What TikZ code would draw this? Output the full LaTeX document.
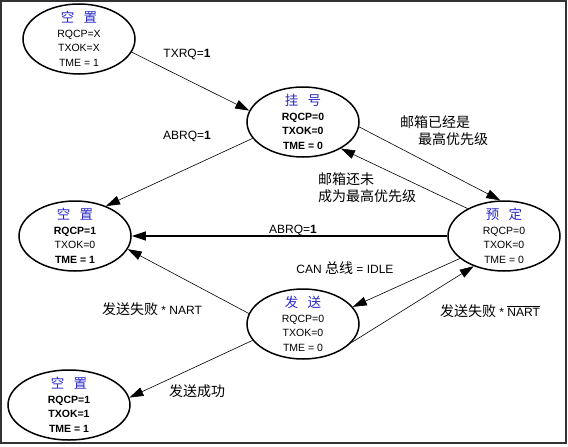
\documentclass[tikz,border=0pt]{standalone}
\usepackage{fontspec}
\setmainfont{Liberation Sans}
\newfontfamily\cjk{Noto Sans CJK SC}
\usetikzlibrary{shapes.geometric,arrows.meta}
\definecolor{titleblue}{RGB}{40,40,200}
\newcommand{\zh}[1]{{\cjk\fontsize{14}{17}\selectfont #1}}
\newcommand{\sttitle}[2]{{\cjk\color{titleblue}\fontsize{13.5}{14.5}\selectfont #1\hspace{0.7em}#2}}
\tikzset{
  state/.style={ellipse,draw,line width=1.5pt,minimum width=112pt,minimum height=70pt,inner sep=0pt},
  stxt/.style={align=center,font=\fontsize{10.5}{14.5}\selectfont,inner sep=0pt},
  lbl/.style={font=\fontsize{12}{17}\selectfont,inner sep=0pt},
  arr/.style={-{Triangle[length=14pt,width=9pt]},line width=0.6pt}
}

\begin{document}
\begin{tikzpicture}[x=1pt,y=-1pt]
        \useasboundingbox (0,0) rectangle (568,447);
        \draw[line width=1.2pt,black!80] (1,1) rectangle (566,443);
        % states
        \foreach \Name/\Pos in {kz1/{(79,39)}, gh/{(303,122)}, kz2/{(75,236)}, yd/{(504,236)}, fs/{(303,324)}}
        \node[state] (\Name) at \Pos {};
        \node[state,minimum width=122pt] (kz3) at (69,405) {};
        \node[stxt] (kz1t) at (kz1) {\sttitle{空}{置}\\RQCP=X\\TXOK=X\\TME = 1};
        \node[stxt] (ght) at (gh) {\sttitle{挂}{号}\\\textbf{RQCP=0}\\\textbf{TXOK=0}\\\textbf{TME = 0}};
        \node[stxt] (kz2t) at (kz2) {\sttitle{空}{置}\\\textbf{RQCP=1}\\TXOK=0\\\textbf{TME = 1}};
        \node[stxt] (ydt) at (yd) {\sttitle{预}{定}\\RQCP=0\\TXOK=0\\TME = 0};
        \node[stxt] (fst) at (fs) {\sttitle{发}{送}\\RQCP=0\\TXOK=0\\TME = 0};
        \node[stxt] (kz3t) at (kz3) {\sttitle{空}{置}\\\textbf{RQCP=1}\\\textbf{TXOK=1}\\\textbf{TME = 1}};
        % transitions
        \foreach \From/\To in {kz1.-14/gh.168, gh.-162/kz2.44, gh.-5/yd.96, yd.143/gh.-35, yd.207/fs.19, fs.-21/yd.225, fs.169/kz2.-14, fs.198/kz3.7}
        \draw[arr] (\From) -- (\To);
        \draw[arr,line width=1.1pt] (yd.west) -- (kz2.east);
        % labels
        \node[lbl] (txrq) at (187,54) {TXRQ=\textbf{1}};
        \node[lbl] (abrqa) at (187,136) {ABRQ=\textbf{1}};
        \node[lbl,align=left] (yijing) at (444,131) {\zh{邮箱已经是}\\\hspace*{18pt}\zh{最高优先级}};
        \node[lbl,align=left] (haiwei) at (367,188) {\zh{邮箱还未}\\\zh{成为最高优先级}};
        \node[lbl] (abrqb) at (293,230) {ABRQ=\textbf{1}};
        \node[lbl] (idle) at (345,268) {CAN \zh{总线} = IDLE};
        \node[lbl] (failr) at (490,311) {\zh{发送失败} * $\overline{\mbox{NART}}$};
        \node[lbl] (faill) at (152,309) {\zh{发送失败} * NART};
        \node[lbl] (ok) at (197,391) {\zh{发送成功}};
\end{tikzpicture}
\end{document}
